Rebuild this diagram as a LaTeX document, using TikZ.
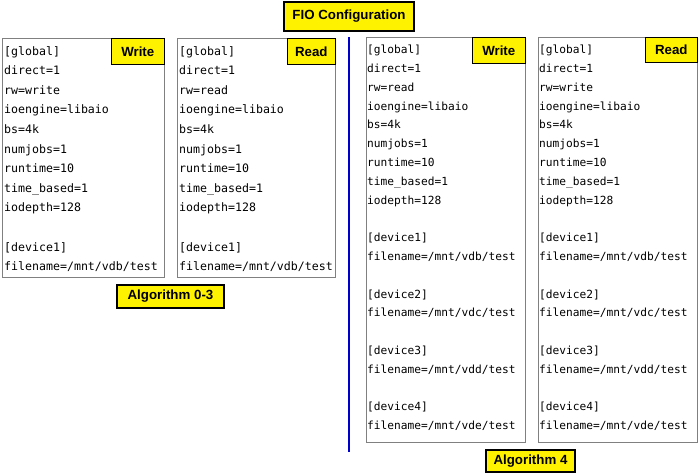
\documentclass[tikz,border=0pt]{standalone}
\usepackage{fontspec}
\setmainfont{Liberation Sans}
\newfontfamily\cfgfont{DejaVu Sans Mono}
\begin{document}
\begin{tikzpicture}[x=1pt,y=-1pt]
\tikzstyle{cfg}= [rectangle,draw=gray,line width=0.9pt,anchor=north west,inner sep=0pt]
\tikzstyle{tag}= [rectangle,draw=black,line width=1.2pt,fill=yellow,inner sep=0pt,font=\fontsize{13.3}{15}\selectfont\bfseries]
\tikzstyle{txtl}= [anchor=north west,inner sep=0pt,align=left,font=\cfgfont\fontsize{11.6}{19.6}\selectfont]
\tikzstyle{txtr}= [anchor=north west,inner sep=0pt,align=left,font=\cfgfont\fontsize{11.2}{18.8}\selectfont]
\useasboundingbox (0,0) rectangle (699,475);

\path
	(2,38)   node[cfg,minimum width=162,minimum height=239] (b1) {}
	(177,38) node[cfg,minimum width=158,minimum height=239] (b2) {}
	(366,37) node[cfg,minimum width=159,minimum height=405] (b3) {}
	(538,37) node[cfg,minimum width=159,minimum height=405] (b4) {}
;
\node[txtl] (t1) at ([xshift=2pt,yshift=-8pt]b1.north west) {[global]\\direct=1\\rw=write\\ioengine=libaio\\bs=4k\\numjobs=1\\runtime=10\\time\_based=1\\iodepth=128\\\mbox{}\\{[}device1]\\filename=/mnt/vdb/test};
\node[txtl] (t2) at ([xshift=2pt,yshift=-8pt]b2.north west) {[global]\\direct=1\\rw=read\\ioengine=libaio\\bs=4k\\numjobs=1\\runtime=10\\time\_based=1\\iodepth=128\\\mbox{}\\{[}device1]\\filename=/mnt/vdb/test};
\node[txtr] (t3) at ([xshift=1pt,yshift=-8pt]b3.north west) {[global]\\direct=1\\rw=read\\ioengine=libaio\\bs=4k\\numjobs=1\\runtime=10\\time\_based=1\\iodepth=128\\\mbox{}\\{[}device1]\\filename=/mnt/vdb/test\\\mbox{}\\{[}device2]\\filename=/mnt/vdc/test\\\mbox{}\\{[}device3]\\filename=/mnt/vdd/test\\\mbox{}\\{[}device4]\\filename=/mnt/vde/test};
\node[txtr] (t4) at ([xshift=1pt,yshift=-8pt]b4.north west) {[global]\\direct=1\\rw=write\\ioengine=libaio\\bs=4k\\numjobs=1\\runtime=10\\time\_based=1\\iodepth=128\\\mbox{}\\{[}device1]\\filename=/mnt/vdb/test\\\mbox{}\\{[}device2]\\filename=/mnt/vdc/test\\\mbox{}\\{[}device3]\\filename=/mnt/vdd/test\\\mbox{}\\{[}device4]\\filename=/mnt/vde/test};

\node[tag,anchor=north east,minimum width=53,minimum height=26] (w1) at (b1.north east) {Write};
\node[tag,anchor=north east,minimum width=48,minimum height=26] (r2) at (b2.north east) {Read};
\node[tag,anchor=north east,minimum width=53,minimum height=26] (w3) at (b3.north east) {Write};
\node[tag,anchor=north east,minimum width=52,minimum height=25] (r4) at (b4.north east) {Read};

\node[tag,minimum width=130,minimum height=29] (fio) at (349,16.5) {FIO Configuration};
\node[tag,minimum width=107,minimum height=23] (alg03) at (170.5,296.5) {Algorithm 0-3};
\node[tag,minimum width=89,minimum height=22] (alg4) at (530.5,461) {Algorithm 4};

\coordinate (st) at (349,37);
\coordinate (sb) at (349,452);
\draw[blue!80!black,line width=1.8pt] (st) -- (sb);
\end{tikzpicture}
\end{document}
